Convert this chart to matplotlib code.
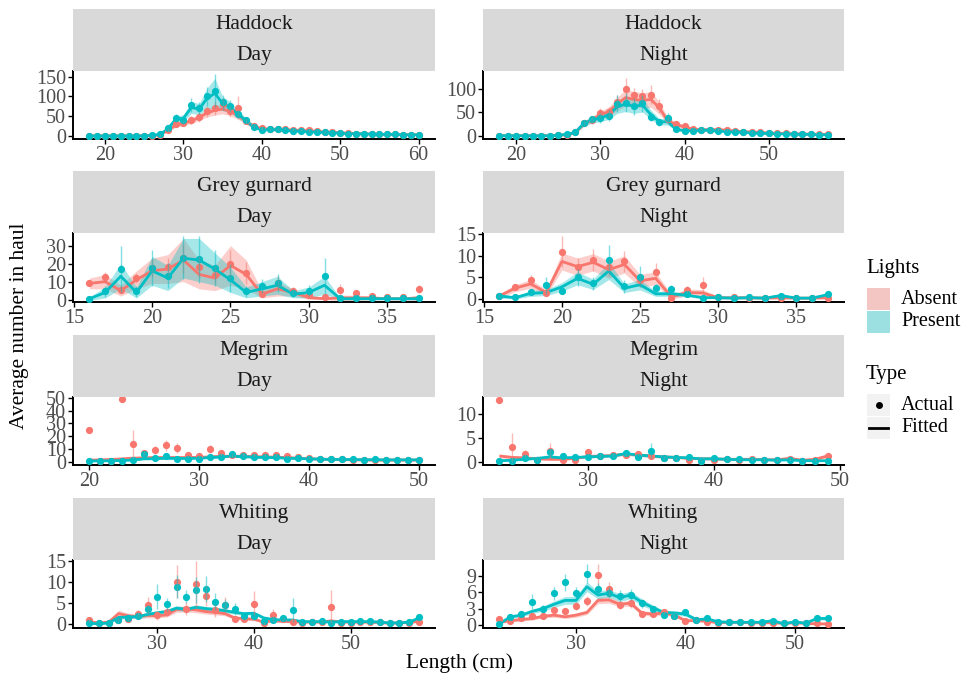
import numpy as np
import matplotlib
matplotlib.use("Agg")
import matplotlib.pyplot as plt
from matplotlib.patches import Rectangle
from matplotlib.lines import Line2D

plt.rcParams['font.family'] = ['Liberation Serif', 'DejaVu Serif']

ABS_COL = '#F8766D'
PRE_COL = '#00BFC4'

# ---------------- Haddock / Day ----------------
hd_len = np.arange(18, 61)
hd_abs_act = [0,0,0,0,0,0,0,0.5,1,3,14,30,33,40,48,62,70,82,62,72,38,25,20,
              17,18,17,16,15,14,12,10,9,8,7,6,5,5,4,4,4,3,3,3]
hd_abs_err = [0,0,0,0,0,0,0,0,1,2,5,8,8,10,12,15,18,15,15,28,8,5,4,
              3,3,3,3,3,3,2,2,2,1,1,1,1,1,1,1,1,1,1,1]
hd_abs_fit = [0,0,0,0,0,0,0,0.5,1,3,14,27,33,38,47,58,65,68,62,52,36,24,19,
              17,17,16,15,14,13,12,10,9,8,7,6,5,5,4,4,4,3,3,3]
hd_abs_band = [0,0,0,0,0,0,0,0.3,0.5,1,3,5,6,7,8,10,12,12,11,10,7,4,3,
               3,3,3,2,2,2,2,2,1,1,1,1,1,1,1,1,1,1,1,1]
hd_pre_act = [0,0,0,0,0,0,0,1,2,5,20,45,40,78,70,100,115,85,75,55,40,22,15,
              17,17,14,13,12,11,10,9,8,7,6,6,5,5,4,4,4,3,3,3]
hd_pre_err = [0,0,0,0,0,0,0,0,1,2,5,10,10,18,15,25,42,18,15,10,8,5,3,
              3,3,3,2,2,2,2,2,1,1,1,1,1,1,1,1,1,1,1,1]
hd_pre_fit = [0,0,0,0,0,0,0,0.5,1.5,4,18,42,45,72,68,95,108,82,72,55,38,22,16,
              16,16,14,13,12,11,10,9,8,7,6,6,5,5,4,4,4,3,3,3]
hd_pre_band = [0,0,0,0,0,0,0,0.3,0.5,1,4,8,9,15,14,26,38,18,14,10,7,4,3,
               3,3,3,2,2,2,2,2,1,1,1,1,1,1,1,1,1,1,1,1]

# ---------------- Haddock / Night ----------------
hn_len = np.arange(18, 58)
hn_abs_act = [0,0,0,0,0,0,0,1,2, 7,28,34,49,50,72,100,88,85,88,64,
              35,26,20,14,13,13,13,12,10,9, 8,7,6,5,5,4,4,3,3,3]
hn_abs_err = [0,0,0,0,0,0,0,0,1, 2,6,8,10,12,15,25,15,15,20,15,
              8,5,4,3,3,3,3,2,2,2, 2,1,1,1,1,1,1,1,1,1]
hn_abs_fit = [0,0,0,0,0,0,0,1,2, 6,25,35,45,52,68,82,78,76,78,60,
              32,24,19,14,13,13,13,12,10,9, 8,7,6,5,5,4,4,3,3,3]
hn_abs_band = [0,0,0,0,0,0,0,0.3,0.5, 2,5,6,8,10,14,18,17,16,17,13,
               7,5,4,3,3,3,3,2,2,2, 2,1,1,1,1,1,1,1,1,1]
hn_pre_act = [0,0,0,0,0,0,0,1,3, 7,28,35,38,43,69,71,63,70,41,29,
              38,14,11,11,12,13,10,9,8,7, 6,5,5,4,4,3,3,3,2,2]
hn_pre_err = [0,0,0,0,0,0,0,0,1, 2,6,8,10,12,18,20,18,18,10,8,
              10,4,3,3,3,3,2,2,2,2, 1,1,1,1,1,1,1,1,1,1]
hn_pre_fit = [0,0,0,0,0,0,0,1,3, 7,26,34,38,45,62,68,63,66,45,30,
              30,14,11,11,12,12,10,9,8,7, 6,5,5,4,4,3,3,3,2,2]
hn_pre_band = [0,0,0,0,0,0,0,0.3,1, 2,6,7,8,10,14,16,15,15,10,7,
               7,3,3,3,3,3,2,2,2,2, 1,1,1,1,1,1,1,1,1,1]

# ---------------- Grey gurnard / Day ----------------
gd_len = np.arange(16, 38)
gd_abs_act = [9.2,12.5,5.5,12,17.5,18,23,18,13.5,19.7,14.7,3.3,9.2,5,2.4,1.3,5.5,3.7,1.8,1.3,1.5,5.9]
gd_abs_err = [1,3,2,3,5,5,8,6,5,8,6,2,4,2,1,0.5,3,1.5,1,0.5,0.5,2]
gd_abs_fit = [9,10,5,11,16,17,22,14,12,19,14,3,6,4,1.2,0.5,1,1,1,0.5,0.5,1]
gd_abs_band = [3,4,3,5,7,8,12,8,7,11,8,2,4,2,1,0.5,1.5,1.5,1,0.5,0.5,1.5]
gd_pre_act = [0.5,4.6,17,4.6,17.5,13.4,23.4,22.5,17.5,12,4.6,7.7,9.2,3.7,5,12.9,1,1,1,1,1,1]
gd_pre_err = [1,3,13,3,10,7,12,13,10,8,3,4,5,2,3,10,1,1,1,1,1,1]
gd_pre_fit = [0.5,4,13,4,16,12,23,22,17,11,4,6,8,3,4,8,0.5,0.5,0.5,0.5,0.5,0.5]
gd_pre_band = [1,3,7,3,8,7,11,12,9,7,3,4,5,2,3,5,0.5,0.5,0.5,0.5,0.5,0.5]

# ---------------- Grey gurnard / Night ----------------
gn_len = np.arange(16, 38)
gn_abs_act = [0.7,2.7,4.3,1.5,11,7.5,9,7.3,8.7,4.4,6.3,0.2,2.1,3.2,0.5,0.4,0.3,0.2,0.3,0.2,0.2,0.3]
gn_abs_err = [0.3,0.7,1.2,0.5,3.5,2,2.5,2,2.5,1.5,2,0.2,0.8,1.8,0.3,0.3,0.2,0.2,0.2,0.2,0.2,0.2]
gn_abs_fit = [0.7,2.5,3.5,1.5,8.7,7.5,8.5,6.8,8,4.2,4.8,0.5,1.5,1.4,0.3,0.3,0.3,0.2,0.3,0.2,0.2,0.3]
gn_abs_band = [0.5,0.8,1,0.7,2,2,2,2,2,1.5,1.5,0.5,0.8,0.8,0.3,0.3,0.3,0.2,0.3,0.2,0.2,0.3]
gn_pre_act = [0.7,0.5,1.7,3.2,1.9,5,3.6,9,2.9,5.2,2.5,2.2,1.1,0.3,0.5,0.3,0.5,0.3,0.8,0.3,0.3,1.2]
gn_pre_err = [0.3,0.3,0.7,2,0.8,2,1.5,3.5,1.5,2.5,1,1,0.5,0.2,0.2,0.2,0.2,0.2,0.4,0.2,0.2,0.5]
gn_pre_fit = [0.7,0.3,1.3,1.5,2.8,4.8,3.4,6.5,2.5,3.3,1.2,1.2,0.9,0.3,0.3,0.2,0.3,0.2,0.8,0.2,0.2,1.0]
gn_pre_band = [0.5,0.3,0.7,0.7,1,1.5,1.2,2,1,1.2,0.6,0.6,0.4,0.2,0.2,0.2,0.2,0.2,0.4,0.2,0.2,0.4]

# ---------------- Megrim / Day ----------------
md_len = np.arange(20, 51)
md_abs_act = [25,1,1,48.8,14.2,7,9.6,12.9,10.9,5.7, 4.4,10,7,5.7,5.7,5.7,5.7,5.7,4.9,3.6,
              3.1,2.6,2,2,1.8,1.6,1.6,1.6,1.6,1.6, 1.8]
md_abs_err = [0,0,0,0,11,2,3,4,4,1.5, 1,3,2,1.5,1.5,1.5,1.5,1.5,1,0.5,
              0.5,0.5,0.3,0.3,0.3,0.3,0.3,0.3,0.3,0.3, 0.3]
md_abs_fit = [1.5,1.7,2,2.5,3,3.3,3.5,3.5,3.5,3.5, 3.6,4,4.5,4.6,4.5,4.2,4,3.8,3.5,3,
              2.6,2.2,2,1.8,1.7,1.6,1.5,1.5,1.5,1.5, 1.5]
md_abs_band = [0.8,0.8,0.8,1,1,1,1,1,1,1, 1,1,1,1,1,1,1,1,0.8,0.8,
               0.7,0.6,0.5,0.5,0.5,0.5,0.5,0.5,0.5,0.5, 0.6]
md_pre_act = [1,1,1,1,1.5,6.2,3.1,4.9,2.6,2.6, 2.6,3.6,3.9,6.2,4.4,3.6,3.6,3.6,2.6,3.1,
              2.6,2.3,2,2.3,2,1.8,2,1.8,1.8,1.8, 1.8]
md_pre_err = [0.2,0.2,0.2,0.2,0.3,2,0.8,1.2,0.5,0.5, 0.5,0.8,0.8,1.5,1,0.8,0.8,0.8,0.5,0.5,
              0.5,0.4,0.3,0.3,0.3,0.3,0.3,0.3,0.3,0.3, 0.3]
md_pre_fit = [0.8,0.9,1,1.2,1.6,2.5,2.6,3,2.8,2.8, 3,3.5,4,4.5,4.2,3.8,3.6,3.4,3,2.8,
              2.5,2.3,2,2,1.9,1.8,1.8,1.7,1.7,1.7, 1.7]
md_pre_band = [0.4,0.4,0.4,0.5,0.5,0.6,0.6,0.7,0.6,0.6, 0.6,0.7,0.8,0.8,0.8,0.7,0.7,0.6,0.6,0.5,
               0.5,0.5,0.4,0.4,0.4,0.4,0.4,0.4,0.4,0.4, 0.4]

# ---------------- Megrim / Night ----------------
mn_len = np.arange(23, 50)
mn_abs_act = [13,3,1.7,0.35,2.2,0.3,0.3,2.1,1.2,1.4, 1.4,1.7,1.2,0.8,0.7,0.35,0.15,0.35,0.56,0.35,
              0.56,0.35,0.35,0.56,0.15,0.35,1.2]
mn_abs_err = [0,3,0.8,0.2,1.7,0.2,0.2,0.6,0.4,0.4, 0.4,0.5,0.4,0.3,0.3,0.2,0.1,0.2,0.2,0.2,
              0.2,0.2,0.2,0.2,0.1,0.2,0.4]
mn_abs_fit = [1.2,0.9,0.8,0.6,0.5,0.5,0.7,1.1,1.2,1.3, 1.6,1.4,1.2,1.0,0.9,0.7,0.6,0.6,0.5,0.5,
              0.5,0.4,0.4,0.7,0.3,0.5,1.2]
mn_abs_band = [0.4,0.3,0.3,0.2,0.2,0.2,0.2,0.3,0.3,0.3, 0.3,0.3,0.3,0.3,0.2,0.2,0.2,0.2,0.2,0.2,
               0.2,0.2,0.2,0.3,0.2,0.2,0.4]
mn_pre_act = [0.15,0.15,0.7,0.35,2.1,1.2,1.05,1.05,1.2,1.2, 1.75,1.05,2.3,0.8,0.8,1.05,0.15,0.7,0.56,0.5,
              0.35,0.35,0.35,0.35,0.15,0.15,0.15]
mn_pre_err = [0.1,0.1,0.3,0.2,0.6,0.4,0.3,0.3,0.4,0.4, 0.5,0.3,1.6,0.3,0.3,0.3,0.1,0.2,0.2,0.2,
              0.1,0.1,0.1,0.1,0.1,0.1,0.1]
mn_pre_fit = [0.2,0.3,0.5,0.7,1.0,0.8,0.9,1.0,1.1,1.2, 1.7,1.4,1.2,1.0,0.9,0.8,0.6,0.6,0.5,0.4,
              0.4,0.4,0.3,0.4,0.2,0.2,0.2]
mn_pre_band = [0.1,0.1,0.2,0.2,0.3,0.2,0.2,0.2,0.2,0.2, 0.3,0.3,0.3,0.2,0.2,0.2,0.2,0.2,0.1,0.1,
               0.1,0.1,0.1,0.1,0.1,0.1,0.1]

# ---------------- Whiting / Day ----------------
wd_len = np.arange(23, 58)
wd_abs_act = [1.1,0.2,0.2,1.0,1.3,2.4,4.5,2.1,2.9,10.1, 3.7,9.5,6.7,3.3,4.5,1.3,1.3,4.9,0.3,2.1,
              1.3,0.6,0.3,0.5,0.6,4.0,0.3,0.3,0.5,0.5, 0.5,0.2,0.2,0.3,0.6]
wd_abs_err = [0.5,0.1,0.1,0.5,0.5,1,2,1,1,3.8, 1.5,5.5,2.5,1.5,2,0.5,0.5,3,0.2,1.5,
              0.5,0.3,0.2,0.3,0.3,4,0.2,0.2,0.2,0.2, 0.2,0.1,0.1,0.2,0.3]
wd_abs_fit = [0.6,0.3,0.5,2.5,2.0,1.8,2.1,2.0,2.2,3.5, 3.6,3.4,3.0,2.8,2.5,1.5,1.3,1.2,0.5,0.8,
              0.7,0.6,0.5,0.5,0.5,0.8,0.5,0.5,0.5,0.5, 0.4,0.2,0.3,0.4,0.7]
wd_abs_band = [0.3,0.2,0.3,0.8,0.6,0.5,0.6,0.5,0.5,0.7, 0.7,0.7,0.6,0.6,0.5,0.4,0.4,0.4,0.2,0.3,
               0.3,0.2,0.2,0.2,0.2,0.3,0.2,0.2,0.2,0.2, 0.2,0.1,0.1,0.2,0.3]
wd_pre_act = [0.2,0.2,0.2,1.0,1.5,1.9,3.5,6.5,4.7,8.9, 6.5,8.1,8.3,5.3,4.5,3.6,1.9,1.9,0.8,1.0,
              1.5,3.3,0.6,0.6,0.7,0.3,0.6,0.6,0.7,0.7, 0.6,0.3,0.3,0.6,1.6]
wd_pre_err = [0.1,0.1,0.1,0.4,0.5,0.6,1,3,1.5,2.8, 1.5,3,3,2,1.5,1.5,0.6,0.6,0.3,0.4,
              0.5,2.8,0.3,0.3,0.3,0.2,0.3,0.3,0.3,0.3, 0.3,0.2,0.2,0.3,0.4]
wd_pre_fit = [0.2,0.1,0.3,1.6,1.7,1.8,2.3,2.7,3.0,3.8, 3.5,4.0,3.7,3.5,3.2,2.8,2.5,2.6,1.5,1.1,
              1.0,1.0,0.6,0.6,0.6,0.5,0.6,0.6,0.6,0.6, 0.5,0.3,0.3,0.5,1.4]
wd_pre_band = [0.1,0.1,0.2,0.4,0.4,0.4,0.5,0.5,0.5,0.6, 0.5,0.6,0.5,0.5,0.5,0.4,0.4,0.4,0.3,0.3,
               0.3,0.3,0.2,0.2,0.2,0.2,0.2,0.2,0.2,0.2, 0.2,0.1,0.1,0.2,0.3]

# ---------------- Whiting / Night ----------------
wn_len = np.arange(23, 54)
wn_abs_act = [1.1,0.7,1.2,1.6,1.6,2.7,2.6,3.5,4.4,9.1, 6.5,3.7,4.0,2.0,2.0,2.4,1.7,0.7,0.9,0.6,
              0.4,0.5,0.5,0.4,0.3,0.4,0.3,0.3,0.3,0.3, 0.2]
wn_abs_err = [0.3,0.2,0.3,0.4,0.4,0.6,0.6,0.8,1.0,2.0, 1.3,0.8,0.8,0.5,0.5,0.6,0.4,0.2,0.3,0.2,
              0.1,0.1,0.1,0.1,0.1,0.1,0.1,0.1,0.1,0.1, 0.1]
wn_abs_fit = [0.5,0.8,1.0,1.2,1.6,1.8,1.5,1.8,2.3,4.5, 4.6,3.8,4.0,2.2,2.0,2.2,1.8,0.8,0.8,0.7,
              0.4,0.5,0.5,0.4,0.4,0.4,0.3,0.4,0.3,0.2, 0.2]
wn_abs_band = [0.2,0.2,0.3,0.3,0.3,0.4,0.3,0.4,0.4,0.6, 0.6,0.5,0.5,0.4,0.4,0.4,0.3,0.2,0.2,0.2,
               0.1,0.1,0.1,0.1,0.1,0.1,0.1,0.1,0.1,0.1, 0.1]
wn_pre_act = [0.2,1.5,2.1,4.3,3.0,5.8,7.8,5.8,9.4,6.5, 5.9,5.4,5.5,4.0,2.9,1.8,1.7,2.3,0.9,1.2,
              0.5,0.6,0.6,0.6,0.5,0.7,0.3,0.6,0.3,1.2, 1.2]
wn_pre_err = [0.1,0.4,0.5,1.3,0.6,1.2,1.5,1.2,1.7,1.2, 1.0,1.0,1.0,0.8,0.6,0.4,0.4,0.5,0.3,0.3,
              0.2,0.2,0.2,0.2,0.2,0.2,0.1,0.2,0.1,0.3, 0.3]
wn_pre_fit = [0.2,1.5,1.8,2.5,3.0,3.8,4.5,4.5,7.0,5.5, 5.8,5.0,5.5,4.2,3.2,2.3,2.2,2.0,1.0,1.1,
              0.6,0.5,0.5,0.5,0.5,0.8,0.2,0.6,0.3,1.2, 1.2]
wn_pre_band = [0.1,0.3,0.3,0.4,0.5,0.6,0.7,0.7,0.9,0.7, 0.7,0.7,0.7,0.6,0.5,0.4,0.4,0.4,0.3,0.3,
               0.2,0.2,0.2,0.2,0.2,0.3,0.1,0.2,0.1,0.3, 0.3]

species = ["Haddock", "Haddock", "Grey gurnard", "Grey gurnard",
           "Megrim", "Megrim", "Whiting", "Whiting"]
periods = ["Day", "Night"] * 4
lights_labels = ["Absent", "Present"]
type_labels = ["Actual", "Fitted"]

x_ticks = [[20, 30, 40, 50, 60], [20, 30, 40, 50], [15, 20, 25, 30, 35], [15, 20, 25, 30, 35],
           [20, 30, 40, 50], [30, 40, 50], [30, 40, 50], [30, 40, 50]]
y_ticks = [[0, 50, 100, 150], [0, 50, 100], [0, 10, 20, 30], [0, 5, 10, 15],
           [0, 10, 20, 30, 40, 50], [0, 5, 10], [0, 5, 10, 15], [0, 3, 6, 9]]
y_lims = [(-7.6, 164.4), (-7, 139), (-1.3, 37), (-0.7, 15.3),
          (-2.3, 50.5), (-0.7, 13.6), (-0.9, 15.2), (-0.55, 11.9)]

panels = [
    (hd_len, hd_abs_act, hd_abs_err, hd_abs_fit, hd_abs_band, hd_pre_act, hd_pre_err, hd_pre_fit, hd_pre_band),
    (hn_len, hn_abs_act, hn_abs_err, hn_abs_fit, hn_abs_band, hn_pre_act, hn_pre_err, hn_pre_fit, hn_pre_band),
    (gd_len, gd_abs_act, gd_abs_err, gd_abs_fit, gd_abs_band, gd_pre_act, gd_pre_err, gd_pre_fit, gd_pre_band),
    (gn_len, gn_abs_act, gn_abs_err, gn_abs_fit, gn_abs_band, gn_pre_act, gn_pre_err, gn_pre_fit, gn_pre_band),
    (md_len, md_abs_act, md_abs_err, md_abs_fit, md_abs_band, md_pre_act, md_pre_err, md_pre_fit, md_pre_band),
    (mn_len, mn_abs_act, mn_abs_err, mn_abs_fit, mn_abs_band, mn_pre_act, mn_pre_err, mn_pre_fit, mn_pre_band),
    (wd_len, wd_abs_act, wd_abs_err, wd_abs_fit, wd_abs_band, wd_pre_act, wd_pre_err, wd_pre_fit, wd_pre_band),
    (wn_len, wn_abs_act, wn_abs_err, wn_abs_fit, wn_abs_band, wn_pre_act, wn_pre_err, wn_pre_fit, wn_pre_band),
]

W, H = 967, 678
fig = plt.figure(figsize=(W / 100, H / 100), dpi=100)

def px_axes(x0, y0, x1, y1):
    return fig.add_axes([x0 / W, 1 - y1 / H, (x1 - x0) / W, (y1 - y0) / H])

col_x = [(73, 435), (483, 844)]
row_y = [(71, 139), (233, 302), (397, 465), (560, 628)]
TICK_FS = 14.5
STRIP_FS = 15.5

for i, pdata in enumerate(panels):
    L, aa, ae, af, ab, pa, pe, pf, pb = [np.asarray(v, dtype=float) for v in pdata]
    r, c = divmod(i, 2)
    x0, x1 = col_x[c]
    y0, y1 = row_y[r]
    ax = px_axes(x0, y0, x1, y1)
    series = [(ABS_COL, aa, ae, af, ab), (PRE_COL, pa, pe, pf, pb)]
    for col, act, err, fit, band in series:
        ax.fill_between(L, fit - band, fit + band, color=col, alpha=0.35, lw=0, zorder=1)
    for col, act, err, fit, band in series:
        ax.plot(L, fit, color=col, lw=2.0, zorder=2, solid_capstyle='butt')
    for col, act, err, fit, band in series:
        ax.plot(L, act, 'o', ms=5.2, color=col, mec='none', zorder=3)
    for col, act, err, fit, band in series:
        ax.vlines(L, act - err, act + err, color=col, alpha=0.5, lw=1.0, zorder=4)
    R = L[-1] - L[0]
    ax.set_xlim(L[0] - 0.05 * R, L[-1] + 0.05 * R)
    ax.set_ylim(*y_lims[i])
    ax.set_xticks(x_ticks[i])
    ax.set_yticks(y_ticks[i])
    for s in ['top', 'right']:
        ax.spines[s].set_visible(False)
    for s in ['left', 'bottom']:
        ax.spines[s].set_linewidth(1.4)
        ax.spines[s].set_color('black')
    ax.tick_params(axis='both', length=3.5, width=1.0, color='black',
                   labelsize=TICK_FS, labelcolor='#4D4D4D', pad=1.5)
    ax.set_facecolor('none')
    # strips
    st = px_axes(x0, y0 - 62, x1, y0)
    st.set_facecolor('#D9D9D9')
    st.set_xticks([]); st.set_yticks([])
    for s in st.spines.values():
        s.set_visible(False)
    st.text(0.5, 0.75, species[i], ha='center', va='center', fontsize=STRIP_FS,
            color='#1A1A1A', transform=st.transAxes)
    st.text(0.5, 0.25, periods[i], ha='center', va='center', fontsize=STRIP_FS,
            color='#1A1A1A', transform=st.transAxes)

fig.text(459 / W, 1 - 663 / H, "Length (cm)", ha='center', va='center', fontsize=15.5)
fig.text(20 / W, 1 - 326 / H, "Average number in haul", ha='center', va='center',
         rotation=90, fontsize=15.5)

# legend overlay in pixel space
lg = fig.add_axes([0, 0, 1, 1], zorder=10)
lg.set_xlim(0, W); lg.set_ylim(H, 0); lg.axis('off')
lg.text(866, 268, "Lights", ha='left', va='center', fontsize=15)
key_cols = [ABS_COL, PRE_COL]
for k, (lab, col) in enumerate(zip(lights_labels, key_cols)):
    ky = 288 + k * 23
    lg.add_patch(Rectangle((867, ky), 23, 22, facecolor='#F2F2F2', edgecolor='none'))
    lg.add_patch(Rectangle((867, ky), 23, 22, facecolor=col, alpha=0.35, edgecolor='none'))
    lg.text(901, ky + 11, lab, ha='left', va='center', fontsize=14.5)
lg.text(866, 374, "Type", ha='left', va='center', fontsize=15)
for k, lab in enumerate(type_labels):
    ky = 394 + k * 23
    lg.add_patch(Rectangle((867, ky), 23, 22, facecolor='#F2F2F2', edgecolor='none'))
    lg.text(901, ky + 11, lab, ha='left', va='center', fontsize=14.5)
lg.plot([878.5], [405], 'o', ms=5, color='black', mec='none')
lg.plot([869, 888], [428, 428], color='black', lw=2.0)

fig.savefig("out.png", dpi=100)
